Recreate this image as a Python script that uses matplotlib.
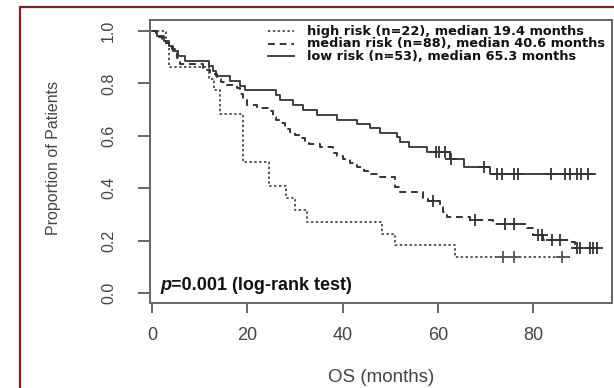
import numpy as np
import matplotlib
matplotlib.use("Agg")
import matplotlib.pyplot as plt
from matplotlib.lines import Line2D

plt.rcParams['font.family'] = ['Liberation Sans', 'DejaVu Sans']

# ---- data ----
high_t = [3.0, 3.5, 12.0, 13.0, 14.3, 19.0, 24.5, 28.2, 30.0, 32.5, 48.2, 51.0, 63.5]
high_s = [0.955, 0.864, 0.818, 0.773, 0.682, 0.500, 0.409, 0.364, 0.318, 0.273, 0.227, 0.182, 0.136]
high_cens = [73.6, 76.0, 86.0]
high_end = 88.0

med_t = [0.8, 1.5, 2.2, 3.0, 3.5, 4.2, 4.8, 5.2, 5.9, 10.7, 12.2, 13.6, 14.5, 15.7, 17.8, 18.4,
         19.0, 19.9, 22.0, 24.7, 25.4, 26.0, 26.8, 28.0, 28.9, 30.0, 31.0, 32.0, 33.0, 35.2,
         38.0, 38.8, 40.0, 41.5, 43.0, 44.5, 46.0, 47.8, 51.0, 52.0, 56.8, 58.0, 60.4, 61.0,
         61.8, 66.7, 71.5, 78.6, 79.9, 82.0, 87.6, 88.7]
med_s = [0.989, 0.977, 0.966, 0.955, 0.943, 0.932, 0.920, 0.898, 0.875, 0.852, 0.835, 0.818,
         0.807, 0.795, 0.784, 0.761, 0.739, 0.716, 0.705, 0.693, 0.670, 0.659, 0.648, 0.625,
         0.614, 0.602, 0.591, 0.580, 0.568, 0.557, 0.534, 0.523, 0.511, 0.495, 0.480, 0.466,
         0.455, 0.443, 0.405, 0.386, 0.362, 0.350, 0.330, 0.310, 0.290, 0.280, 0.265, 0.248,
         0.221, 0.202, 0.195, 0.172]
med_cens = [59.0, 67.7, 74.0, 76.0, 81.0, 81.8, 84.0, 85.5, 89.2, 89.8, 91.8, 92.5, 93.3]
med_end = 94.0

low_t = [1.0, 2.5, 3.5, 4.5, 5.5, 7.0, 12.0, 12.8, 13.5, 16.4, 18.4, 19.5, 26.0, 26.8, 29.6,
         31.7, 34.6, 38.8, 43.0, 45.7, 47.8, 51.4, 52.0, 54.0, 57.7, 62.5, 65.5, 71.0]
low_s = [0.981, 0.962, 0.943, 0.925, 0.906, 0.887, 0.868, 0.849, 0.830, 0.811, 0.792, 0.774,
         0.755, 0.736, 0.717, 0.698, 0.679, 0.660, 0.645, 0.628, 0.611, 0.594, 0.576, 0.557,
         0.538, 0.510, 0.482, 0.454]
low_cens = [59.5, 60.3, 61.5, 62.8, 69.6, 72.3, 73.4, 76.0, 76.8, 83.6, 86.6, 87.6, 89.1, 90.1, 91.4]
low_end = 93.0

labels = ["high risk (n=22), median 19.4 months",
          "median risk (n=88), median 40.6 months",
          "low risk (n=53), median 65.3 months"]
x_ticks = [0, 20, 40, 60, 80]
y_ticks = [0.0, 0.2, 0.4, 0.6, 0.8, 1.0]
y_ticklabels = ["0.0", "0.2", "0.4", "0.6", "0.8", "1.0"]
pval_text = "=0.001 (log-rank test)"

# ---- figure ----
W, H = 614, 388
fig = plt.figure(figsize=(W / 100, H / 100), dpi=100)
fig.patch.set_facecolor('white')

# dark red outer frame (top and left visible)
fig.add_artist(Line2D([20 / W, 20 / W, 1.0], [0.0, 1 - 7 / H, 1 - 7 / H],
                      transform=fig.transFigure, color='#8b1a1a', lw=1.6))

ax = fig.add_axes([150 / W, (H - 303) / H, (612 - 150) / W, (303 - 20) / H])
ax.set_xlim(-0.42, 96.5)
ax.set_ylim(-0.038, 1.042)

grey = '#666666'
for sp in ax.spines.values():
    sp.set_color(grey)
    sp.set_linewidth(1.4)

styles = [dict(ls=(0, (1.2, 1.3)), color='#555555', lw=1.4),
          dict(ls=(0, (3.5, 2.5)), color='#333333', lw=1.4),
          dict(ls='-', color='#333333', lw=1.3)]

series = [(high_t, high_s, high_cens, high_end),
          (med_t, med_s, med_cens, med_end),
          (low_t, low_s, low_cens, low_end)]

for (t, s, cens, end), st in zip(series, styles):
    xs = [0.0] + list(t) + [end]
    ys = [1.0] + list(s) + [s[-1]]
    ax.step(xs, ys, where='post', **st)
    t_arr = np.asarray(t)
    s_arr = np.asarray(s)
    idx = np.searchsorted(t_arr, cens, side='right') - 1
    cy = np.where(idx >= 0, s_arr[np.clip(idx, 0, None)], 1.0)
    ax.plot(cens, cy, ls='none', marker='+', ms=9, mew=1.3, color=st['color'])

ax.set_xticks(x_ticks)
ax.set_xticklabels([str(v) for v in x_ticks])
ax.set_yticks(y_ticks)
ax.set_yticklabels(y_ticklabels, rotation=90, va='center')
ax.tick_params(axis='x', direction='out', length=7.5, width=1.4, color=grey,
               labelsize=13, labelcolor='#444444', pad=10)
ax.tick_params(axis='y', direction='out', length=8.5, width=1.4, color=grey,
               labelsize=11.5, labelcolor='#444444', pad=16)

ax.set_xlabel("OS (months)", fontsize=13.5, color='#444444', va='center')
ax.xaxis.set_label_coords(0.5, (303 - 377) / 283)
ax.set_ylabel("Proportion of Patients", fontsize=11.5, color='#444444', va='center')
ax.yaxis.set_label_coords((54 - 150) / 462, 0.512)

# legend (manual)
rows_y = [(303 - 31) / 283, (303 - 43.5) / 283, (303 - 56) / 283]
hx0, hx1, tx = (268 - 150) / 462, (294 - 150) / 462, (307 - 150) / 462
for lab, st, yy in zip(labels, styles, rows_y):
    ax.add_line(Line2D([hx0, hx1], [yy, yy], transform=ax.transAxes, **st))
    ax.text(tx, yy, lab, transform=ax.transAxes, fontsize=9.3, fontweight='bold',
            family=['DejaVu Sans'], color='#111111', va='center', ha='left')

# p-value annotation
tp = ax.text(1.7, 0.03, "p", fontsize=13, fontweight='bold', fontstyle='italic',
             color='#111111', va='center', ha='left')
ax.annotate(pval_text, xy=(1, 0.5), xycoords=tp, fontsize=13, fontweight='bold',
            color='#111111', va='center', ha='left')

fig.savefig("out.png", dpi=100)
